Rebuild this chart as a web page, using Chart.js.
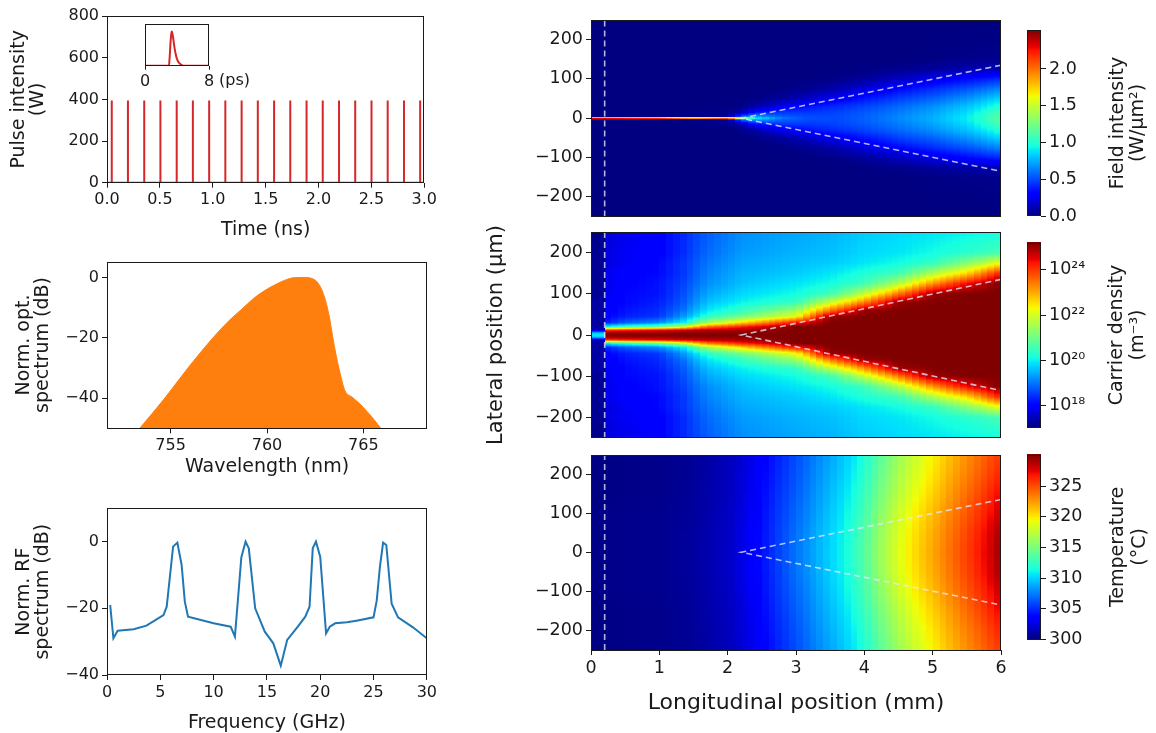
<!DOCTYPE html>
<html lang="en">
  <head>
    <meta charset="UTF-8" />
    <meta name="viewport" content="width=device-width, initial-scale=1.0" />
    <title>Tapered laser simulation</title>
    <style>
      body { margin: 0; background: #fff; }
      #figure { position: relative; width: 1156px; height: 733px; overflow: hidden; }
      #figure canvas { position: absolute; }
    </style>
  </head>

  <body>
    <div id="figure">
      <canvas id="pulses" width="440" height="245" style="left:0px;top:0px"></canvas>
      <canvas id="inset" width="140" height="80" style="left:130px;top:14px"></canvas>
      <canvas id="optical" width="440" height="245" style="left:0px;top:245px"></canvas>
      <canvas id="rf" width="440" height="243" style="left:0px;top:490px"></canvas>
      <canvas id="field" width="540" height="230" style="left:470px;top:0px"></canvas>
      <canvas id="temperature" width="540" height="292" style="left:470px;top:441px"></canvas>
      <canvas id="carriers" width="540" height="270" style="left:470px;top:200px"></canvas>
      <canvas id="fieldBar" width="146" height="230" style="left:1010px;top:0px"></canvas>
      <canvas id="carrierBar" width="146" height="212" style="left:1010px;top:229px"></canvas>
      <canvas id="temperatureBar" width="146" height="292" style="left:1010px;top:441px"></canvas>
    </div>
    <script src="https://cdn.jsdelivr.net/npm/chart.js"></script>
    <script>
      // ---- pulse train (ns) and single pulse (ps)
      const pulseTimes = [0.045, 0.198, 0.352, 0.505, 0.659, 0.812, 0.966, 1.119, 1.273, 1.426,
                          1.58, 1.733, 1.887, 2.04, 2.194, 2.347, 2.501, 2.654, 2.808, 2.961];
      const pulsePeaks = [395, 395, 395, 395, 395, 395, 395, 395, 395, 395,
                          395, 395, 395, 395, 395, 395, 395, 395, 395, 395];
      const timeTicks = [0, 0.5, 1, 1.5, 2, 2.5, 3];
      const powerTicks = [0, 200, 400, 600, 800];
      const insetTime = [0, 2.9, 3.05, 3.2, 3.34, 3.5, 3.7, 3.9, 4.1, 4.4, 4.8, 8];
      const insetPower = [0, 0, 60, 280, 392, 330, 200, 110, 55, 20, 0, 0];
      const insetTicks = [0, 8];

      // ---- optical spectrum
      const wavelength = [753.4, 754.7, 755.9, 757.2, 758.0, 758.7, 759.3, 759.9, 760.4, 760.9, 761.4, 762.0,
                          762.3, 762.6, 762.9, 763.2, 763.5, 763.8, 764.05, 764.4, 764.8, 765.2, 765.6, 765.9];
      const spectrumDb = [-50, -40, -30, -20, -14.5, -10.5, -7, -4.3, -2.5, -1, -0.1, 0,
                          -0.3, -1.5, -5, -12, -23, -32, -37.6, -39.6, -41.8, -44.5, -47.5, -50];
      const wavelengthTicks = [755, 760, 765];
      const spectrumTicks = [-40, -20, 0];

      // ---- RF spectrum
      const rfFreq = [0.3, 0.6, 1.0, 2.5, 3.7, 5.3, 5.6, 6.2, 6.6, 7.0, 7.3, 7.6, 10.0, 11.6, 12.0,
                      12.6, 13.0, 13.3, 13.9, 14.8, 15.6, 16.3, 16.9, 17.9, 18.6, 19.0, 19.3, 19.6, 20.0,
                      20.55, 20.9, 21.4, 22.5, 23.4, 25.0, 25.3, 25.6, 25.9, 26.2, 26.7, 27.3, 28.7, 30.0];
      const rfDb = [-19, -29, -26.7, -26.3, -25.2, -22, -19.5, -1.5, -0.3, -7, -18, -22.5, -24.5, -25.5, -28.5,
                    -4.7, 0, -2, -20, -27, -30.5, -37.2, -29.5, -25.5, -22.5, -19.5, -2, 0, -4.5,
                    -27.5, -25.5, -24.5, -24.2, -23.7, -22.7, -17.7, -7.6, -0.3, -1, -18.6, -22.7, -25.7, -29];
      const freqTicks = [0, 5, 10, 15, 20, 25, 30];
      const rfTicks = [-40, -20, 0];

      // ---- device maps (z in mm, |y| in um, rows follow the y list)
      const lengthTicks = [0, 1, 2, 3, 4, 5, 6];
      const lateralTicks = [-200, -100, 0, 100, 200];
      const lateralRange = [-250, 250];
      const apertureZ = 0.2;
      const taperStart = [2.2, 0];
      const taperEnd = [6, 135];

      const fieldZ = [0, 0.2, 1, 1.5, 2.0, 2.2, 2.4, 2.8, 3.2, 3.6, 4.0, 4.5, 5.0, 5.5, 6.0];
      const fieldY = [0, 1.5, 3.5, 15, 30, 50, 75, 100, 125, 150, 250];
      const fieldRows = [
        [2.3, 2.3, 2.2, 1.9, 2.1, 1.5, 0.9, 0.6, 0.5, 0.5, 0.55, 0.65, 0.75, 0.9, 1.15],
        [2.3, 2.3, 2.2, 1.9, 2.1, 1.4, 0.88, 0.6, 0.5, 0.5, 0.55, 0.65, 0.75, 0.9, 1.15],
        [0, 0, 0, 0, 0.05, 0.6, 0.75, 0.55, 0.5, 0.5, 0.55, 0.65, 0.75, 0.9, 1.15],
        [0, 0, 0, 0.02, 0.03, 0.1, 0.35, 0.45, 0.45, 0.48, 0.53, 0.62, 0.72, 0.86, 1.1],
        [0, 0, 0, 0, 0, 0.02, 0.08, 0.25, 0.36, 0.42, 0.48, 0.57, 0.67, 0.8, 1.0],
        [0, 0, 0, 0, 0, 0, 0.01, 0.06, 0.16, 0.27, 0.36, 0.47, 0.56, 0.68, 0.85],
        [0, 0, 0, 0, 0, 0, 0, 0.01, 0.04, 0.1, 0.2, 0.32, 0.42, 0.52, 0.65],
        [0, 0, 0, 0, 0, 0, 0, 0, 0.01, 0.02, 0.06, 0.14, 0.24, 0.33, 0.42],
        [0, 0, 0, 0, 0, 0, 0, 0, 0, 0, 0.01, 0.03, 0.06, 0.1, 0.12],
        [0, 0, 0, 0, 0, 0, 0, 0, 0, 0, 0, 0, 0.01, 0.02, 0.03],
        [0, 0, 0, 0, 0, 0, 0, 0, 0, 0, 0, 0, 0, 0, 0]
      ];
      const fieldRange = [0, 2.53];
      const fieldBarTicks = [0, 0.5, 1, 1.5, 2];

      // carrier density as log10(m^-3)
      const carrierZ = [0, 0.19, 0.21, 0.5, 1.0, 1.35, 1.7, 2.2, 3.0, 3.5, 4.0, 4.5, 5.0, 5.5, 6.0];
      const carrierY = [0, 5, 12, 20, 30, 45, 60, 80, 100, 125, 150, 175, 200, 250];
      const carrierRows = [
        [20.0, 20.0, 25.2, 25.2, 25.2, 25.2, 25.2, 25.2, 25.2, 25.2, 25.2, 25.2, 25.2, 25.2, 25.2],
        [19.6, 19.6, 25.0, 25.0, 25.0, 25.1, 25.1, 25.1, 25.2, 25.2, 25.2, 25.2, 25.2, 25.2, 25.2],
        [17.5, 17.5, 24.0, 24.2, 24.4, 24.6, 24.8, 24.9, 25.2, 25.2, 25.2, 25.2, 25.2, 25.2, 25.2],
        [17.3, 17.3, 20.0, 20.5, 21.0, 22.0, 23.5, 24.2, 25.2, 25.2, 25.2, 25.2, 25.2, 25.2, 25.2],
        [17.3, 17.3, 18.3, 18.8, 19.2, 20.0, 21.5, 22.6, 24.3, 25.2, 25.2, 25.2, 25.2, 25.2, 25.2],
        [17.3, 17.3, 18.0, 18.3, 18.5, 19.3, 20.3, 21.0, 22.2, 25.0, 25.2, 25.2, 25.2, 25.2, 25.2],
        [17.3, 17.3, 17.9, 18.2, 18.4, 19.0, 19.9, 20.4, 21.4, 23.4, 25.0, 25.2, 25.2, 25.2, 25.2],
        [17.3, 17.3, 17.9, 18.1, 18.3, 18.8, 19.6, 20.0, 20.4, 21.8, 23.3, 25.0, 25.2, 25.2, 25.2],
        [17.2, 17.2, 17.8, 18.1, 18.2, 18.7, 19.4, 19.8, 20.1, 20.5, 21.8, 23.4, 25.0, 25.2, 25.2],
        [17.2, 17.2, 17.8, 18.0, 18.2, 18.6, 19.2, 19.6, 19.9, 20.1, 20.5, 21.6, 23.2, 24.4, 25.2],
        [17.2, 17.2, 17.8, 18.0, 18.1, 18.5, 19.1, 19.5, 19.7, 19.9, 20.2, 20.5, 21.6, 22.6, 24.2],
        [17.2, 17.2, 17.7, 17.9, 18.1, 18.5, 19.0, 19.4, 19.6, 19.7, 19.9, 20.1, 20.4, 21.2, 22.2],
        [17.2, 17.2, 17.7, 17.9, 18.0, 18.4, 18.9, 19.3, 19.5, 19.6, 19.8, 19.9, 20.1, 20.3, 20.6],
        [17.1, 17.1, 17.7, 17.8, 18.0, 18.4, 18.8, 19.2, 19.4, 19.5, 19.7, 19.8, 19.9, 20.0, 20.1]
      ];
      const carrierExpRange = [17.05, 25.2];
      const carrierBarTicks = [1e18, 1e20, 1e22, 1e24];

      const tempZ = [0, 1, 1.5, 2, 2.3, 2.6, 3.0, 3.3, 3.7, 4.0, 4.3, 4.6, 5.0, 5.3, 5.6, 5.85, 6.0];
      const tempY = [0, 50, 100, 150, 200, 250];
      const tempRows = [
        [300.2, 300.4, 300.8, 301.8, 303.0, 304.8, 307.2, 308.9, 311.2, 313.6, 317.0, 319.5, 322.2, 324.2, 326.2, 328.0, 329.6],
        [300.2, 300.4, 300.8, 301.8, 303.0, 304.7, 307.1, 308.8, 311.1, 313.4, 316.8, 319.3, 322.0, 324.0, 326.0, 327.8, 329.3],
        [300.2, 300.4, 300.7, 301.7, 302.9, 304.6, 306.8, 308.5, 310.8, 313.0, 316.3, 318.8, 321.5, 323.5, 325.4, 327.1, 328.4],
        [300.1, 300.3, 300.7, 301.6, 302.7, 304.4, 306.5, 308.2, 310.4, 312.5, 315.6, 318.1, 320.8, 322.8, 324.7, 326.3, 327.4],
        [300.1, 300.3, 300.6, 301.6, 302.6, 304.2, 306.2, 307.9, 310.0, 312.0, 315.0, 317.5, 320.2, 322.2, 324.0, 325.5, 326.4],
        [300.1, 300.3, 300.6, 301.5, 302.5, 304.0, 306.0, 307.6, 309.7, 311.6, 314.5, 317.0, 319.7, 321.7, 323.5, 324.9, 325.7]
      ];
      const tempRange = [300, 330.2];
      const tempBarTicks = [300, 305, 310, 315, 320, 325];

      // ---- styling
      const ink = '#1a1a1a';
      const red = '#d62728';
      const orange = '#ff7f0e';
      const blue = '#1f77b4';
      const dashColor = 'rgba(232, 232, 255, 0.78)';
      const cellWidth = 0.1; // mm, simulation column width

      Chart.defaults.font.family = "'DejaVu Sans', sans-serif";
      Chart.defaults.color = ink;
      Chart.defaults.animation = false;
      Chart.defaults.plugins.legend.display = false;
      Chart.defaults.plugins.tooltip.enabled = false;

      const minus = (v) => String(v).replace('-', '\u2212');
      const supDigits = { 0: '\u2070', 1: '\u00b9', 2: '\u00b2', 3: '\u00b3', 4: '\u2074',
                          5: '\u2075', 6: '\u2076', 7: '\u2077', 8: '\u2078', 9: '\u2079' };
      const powerOfTen = (v) => '10' + String(Math.round(Math.log10(v))).split('').map((d) => supDigits[d]).join('');

      // matplotlib jet
      const jetStops = [
        [[0, 0], [0.35, 0], [0.66, 1], [0.89, 1], [1, 0.5]],
        [[0, 0], [0.125, 0], [0.375, 1], [0.64, 1], [0.91, 0], [1, 0]],
        [[0, 0.5], [0.11, 1], [0.34, 1], [0.65, 0], [1, 0]]
      ];
      function jet(v) {
        v = Math.min(1, Math.max(0, v));
        return jetStops.map((stops) => {
          let i = 0;
          while (i < stops.length - 2 && stops[i + 1][0] < v) i++;
          const [x0, c0] = stops[i], [x1, c1] = stops[i + 1];
          return Math.round(255 * (c0 + (c1 - c0) * (v - x0) / (x1 - x0)));
        });
      }

      function locate(axis, v) {
        const n = axis.length - 1;
        if (v <= axis[0]) return [0, 0];
        if (v >= axis[n]) return [n - 1, 1];
        let i = 0;
        while (axis[i + 1] < v) i++;
        return [i, (v - axis[i]) / (axis[i + 1] - axis[i])];
      }

      function sampleGrid(rows, zs, ys, z, y) {
        const [i, tz] = locate(zs, z);
        const [j, ty] = locate(ys, Math.abs(y));
        const top = rows[j][i] * (1 - tz) + rows[j][i + 1] * tz;
        const bottom = rows[j + 1][i] * (1 - tz) + rows[j + 1][i + 1] * tz;
        return top * (1 - ty) + bottom * ty;
      }

      // paints the map under the datasets, one simulation column at a time
      function heatmapLayer(rows, zs, ys, range) {
        let cache = null;
        return {
          id: 'heatmap',
          beforeDatasetsDraw(chart) {
            const { ctx, chartArea: a, scales: { x, y } } = chart;
            const w = Math.round(a.right - a.left);
            const h = Math.round(a.bottom - a.top);
            if (!cache) {
              cache = document.createElement('canvas');
              cache.width = w;
              cache.height = h;
              const off = cache.getContext('2d');
              const img = off.createImageData(w, h);
              for (let px = 0; px < w; px++) {
                let z = x.getValueForPixel(a.left + px + 0.5);
                z = (Math.floor(z / cellWidth) + 0.5) * cellWidth;
                for (let py = 0; py < h; py++) {
                  const lat = y.getValueForPixel(a.top + py + 0.5);
                  const val = sampleGrid(rows, zs, ys, z, lat);
                  const [r, g, b] = jet((val - range[0]) / (range[1] - range[0]));
                  const k = (py * w + px) * 4;
                  img.data[k] = r;
                  img.data[k + 1] = g;
                  img.data[k + 2] = b;
                  img.data[k + 3] = 255;
                }
              }
              off.putImageData(img, 0, 0);
            }
            ctx.drawImage(cache, Math.round(a.left), Math.round(a.top));
          }
        };
      }

      function colorbarLayer(toUnit, lines, lineX) {
        return {
          id: 'colorbar',
          beforeDatasetsDraw(chart) {
            const { ctx, chartArea: a, scales: { y } } = chart;
            for (let py = Math.floor(a.top); py < Math.ceil(a.bottom); py++) {
              const [r, g, b] = jet(toUnit(y.getValueForPixel(py + 0.5)));
              ctx.fillStyle = `rgb(${r},${g},${b})`;
              ctx.fillRect(a.left, py, a.right - a.left, 1);
            }
          },
          afterDraw(chart) {
            const { ctx, chartArea: a } = chart;
            ctx.save();
            ctx.translate(0, (a.top + a.bottom) / 2);
            ctx.rotate(-Math.PI / 2);
            ctx.font = "19px 'DejaVu Sans'";
            ctx.fillStyle = ink;
            ctx.textAlign = 'center';
            ctx.textBaseline = 'middle';
            lines.forEach((t, i) => ctx.fillText(t, 0, lineX[i]));
            ctx.restore();
          }
        };
      }

      // closed axes box on every panel
      Chart.register({
        id: 'frame',
        afterDraw(chart) {
          const { ctx, chartArea: a } = chart;
          ctx.save();
          ctx.strokeStyle = ink;
          ctx.lineWidth = 1;
          ctx.strokeRect(Math.round(a.left) + 0.5, Math.round(a.top) + 0.5,
                         Math.round(a.right - a.left) - 1, Math.round(a.bottom - a.top) - 1);
          ctx.restore();
        }
      });

      function axis(o) {
        return {
          type: o.type || 'linear',
          position: o.position,
          display: o.display !== false,
          min: o.min,
          max: o.max,
          afterBuildTicks: (s) => { s.ticks = (o.ticks || []).map((value) => ({ value })); },
          afterFit: (s) => {
            if (o.size == null) return;
            if (s.isHorizontal()) s.height = o.size; else s.width = o.size;
          },
          grid: { drawOnChartArea: false, drawTicks: true, tickLength: o.tickLength || 5, color: ink, lineWidth: 1 },
          border: { display: false },
          ticks: {
            font: { size: o.tickSize || 16 },
            color: ink,
            padding: 3,
            maxRotation: 0,
            autoSkip: false,
            callback: o.format || ((v) => minus(v))
          },
          title: o.title
            ? { display: true, text: o.title, color: ink,
                font: { size: o.titleSize || 19, lineHeight: o.titleLh || 1.0 }, padding: o.titlePad }
            : { display: false }
        };
      }

      // ---- pulse train
      const pulseTrace = [{ x: 0, y: 0 }];
      pulseTimes.forEach((t, i) => {
        pulseTrace.push({ x: t, y: 0 }, { x: t, y: pulsePeaks[i] }, { x: t, y: 0 });
      });
      pulseTrace.push({ x: 3, y: 0 });

      new Chart(document.getElementById('pulses'), {
        type: 'scatter',
        data: { datasets: [{ data: pulseTrace, showLine: true, borderColor: red, borderWidth: 2, pointRadius: 0 }] },
        options: {
          responsive: false,
          layout: { padding: { top: 16, right: 13, left: 0, bottom: 0 } },
          scales: {
            x: axis({ min: 0, max: 3, ticks: timeTicks, format: (v) => v.toFixed(1), size: 62.3,
                      title: 'Time (ns)', titlePad: { bottom: 5.5 } }),
            y: axis({ min: 0, max: 800, ticks: powerTicks, size: 107,
                      title: ['Pulse intensity', '(W)'], titlePad: { top: 9.5 } })
          }
        }
      });

      new Chart(document.getElementById('inset'), {
        type: 'scatter',
        data: {
          datasets: [{ data: insetTime.map((t, i) => ({ x: t, y: insetPower[i] })), showLine: true,
                       borderColor: red, borderWidth: 2, pointRadius: 0, tension: 0.3 }]
        },
        options: {
          responsive: false,
          layout: { padding: { top: 10, right: 61, left: 15, bottom: 0 } },
          scales: {
            x: axis({ min: 0, max: 8, ticks: insetTicks, size: 28.3, tickLength: 4 }),
            y: axis({ min: 0, max: 480, display: false })
          }
        },
        plugins: [{
          id: 'psUnit',
          afterDraw(chart) {
            const { ctx, scales: { x } } = chart;
            ctx.save();
            ctx.font = "16px 'DejaVu Sans'";
            ctx.fillStyle = ink;
            ctx.textAlign = 'left';
            ctx.textBaseline = 'top';
            ctx.fillText('(ps)', x.getPixelForValue(insetTicks[1]) + 10, x.top + 7);
            ctx.restore();
          }
        }]
      });

      // ---- optical spectrum
      new Chart(document.getElementById('optical'), {
        type: 'scatter',
        data: {
          datasets: [{ data: wavelength.map((w, i) => ({ x: w, y: spectrumDb[i] })), showLine: true,
                       borderColor: orange, backgroundColor: orange, borderWidth: 1, pointRadius: 0,
                       fill: 'start', cubicInterpolationMode: 'monotone' }]
        },
        options: {
          responsive: false,
          layout: { padding: { top: 16.7, right: 13, left: 0, bottom: 0 } },
          scales: {
            x: axis({ min: 751.7, max: 768.3, ticks: wavelengthTicks, size: 61.7,
                      title: 'Wavelength (nm)', titlePad: { bottom: 13.8 } }),
            y: axis({ min: -50, max: 5.2, ticks: spectrumTicks, size: 107,
                      title: ['Norm. opt.', 'spectrum (dB)'], titlePad: { top: 14.5 } })
          }
        }
      });

      // ---- RF spectrum
      new Chart(document.getElementById('rf'), {
        type: 'scatter',
        data: {
          datasets: [{ data: rfFreq.map((f, i) => ({ x: f, y: rfDb[i] })), showLine: true,
                       borderColor: blue, borderWidth: 2, pointRadius: 0 }]
        },
        options: {
          responsive: false,
          layout: { padding: { top: 18.3, right: 13, left: 0, bottom: 0 } },
          scales: {
            x: axis({ min: 0, max: 30, ticks: freqTicks, size: 58,
                      title: 'Frequency (GHz)', titlePad: { bottom: 0.5 } }),
            y: axis({ min: -40, max: 10, ticks: rfTicks, size: 107,
                      title: ['Norm. RF', 'spectrum (dB)'], titlePad: { top: 14.5 } })
          }
        }
      });

      // ---- device maps
      function guideLines() {
        const style = { showLine: true, borderColor: dashColor, borderWidth: 1.6, borderDash: [6, 4], pointRadius: 0 };
        return [
          { ...style, data: [{ x: apertureZ, y: lateralRange[0] }, { x: apertureZ, y: lateralRange[1] }] },
          { ...style, data: [{ x: taperEnd[0], y: taperEnd[1] }, { x: taperStart[0], y: taperStart[1] },
                             { x: taperEnd[0], y: -taperEnd[1] }] }
        ];
      }

      function mapChart(id, layer, padding, xOpts, yOpts) {
        return new Chart(document.getElementById(id), {
          type: 'scatter',
          data: { datasets: guideLines() },
          options: {
            responsive: false,
            layout: { padding },
            scales: {
              x: axis({ min: 0, max: 6, ticks: lengthTicks, tickSize: 17.5, ...xOpts }),
              y: axis({ min: lateralRange[0], max: lateralRange[1], ticks: lateralTicks, tickSize: 17.5, size: 121, ...yOpts })
            }
          },
          plugins: [layer]
        });
      }

      mapChart('field', heatmapLayer(fieldRows, fieldZ, fieldY, fieldRange),
               { top: 20, right: 9, left: 0, bottom: 3 }, { display: false }, {});
      mapChart('temperature', heatmapLayer(tempRows, tempZ, tempY, tempRange),
               { top: 3, right: 9, left: 0, bottom: 0 },
               { size: 83, title: 'Longitudinal position (mm)', titleSize: 22, titleLh: 1.2, titlePad: { bottom: 16.8 } }, {});
      mapChart('carriers', heatmapLayer(carrierRows, carrierZ, carrierY, carrierExpRange),
               { top: 32, right: 9, left: 0, bottom: 32 }, { display: false },
               { title: 'Lateral position (\u03bcm)', titleSize: 21, titleLh: 1.2, titlePad: { top: 14.4 } });

      // ---- colour bars
      function colorbarChart(id, padding, yOpts, layer) {
        return new Chart(document.getElementById(id), {
          type: 'scatter',
          data: { datasets: [] },
          options: {
            responsive: false,
            layout: { padding },
            scales: {
              x: { display: false, min: 0, max: 1 },
              y: axis({ position: 'right', size: 115, tickSize: 17.5, ...yOpts })
            }
          },
          plugins: [layer]
        });
      }

      colorbarChart('fieldBar', { top: 30, bottom: 14, left: 17, right: 0 },
        { min: fieldRange[0], max: fieldRange[1], ticks: fieldBarTicks, format: (v) => v.toFixed(1) },
        colorbarLayer((v) => (v - fieldRange[0]) / (fieldRange[1] - fieldRange[0]),
                      ['Field intensity', '(W/\u03bcm\u00b2)'], [108, 128]));

      colorbarChart('carrierBar', { top: 12.7, bottom: 12.7, left: 17, right: 0 },
        { type: 'logarithmic', min: Math.pow(10, carrierExpRange[0]), max: Math.pow(10, carrierExpRange[1]),
          ticks: carrierBarTicks, format: powerOfTen },
        colorbarLayer((v) => (Math.log10(v) - carrierExpRange[0]) / (carrierExpRange[1] - carrierExpRange[0]),
                      ['Carrier density', '(m\u207b\u00b3)'], [107, 128]));

      colorbarChart('temperatureBar', { top: 13, bottom: 93.7, left: 17, right: 0 },
        { min: tempRange[0], max: tempRange[1], ticks: tempBarTicks },
        colorbarLayer((v) => (v - tempRange[0]) / (tempRange[1] - tempRange[0]),
                      ['Temperature', '(\u00b0C)'], [108, 130]));
    </script>
  </body>
</html>
